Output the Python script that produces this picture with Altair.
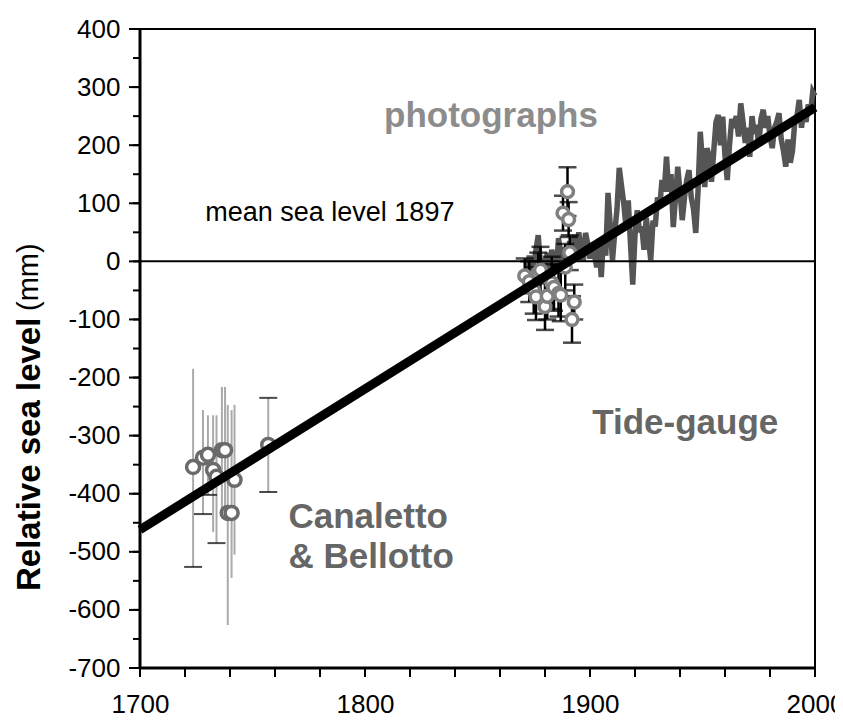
import altair as alt
import pandas as pd

# ---------------- data ----------------
# Tide-gauge annual relative sea level (mm), Venice
tide_years = list(range(1872, 2001))
tide_vals = [
    -20, 10, -30, -5, 20, 45, -10, 5, -25, 15,          # 1872-1881
    -15, 20, 0, -20, 40, 10, -5, 25, 0, 35,             # 1882-1891
    15, 45, 10, 50, 20, 0, 49, 30, 5, 25,               # 1892-1901
    10, -10, 30, -27, 40, 10, 118, 60, 2, 50,           # 1902-1911
    90, 161, 130, 100, 60, 105, 30, -40, 45, 88,        # 1912-1921
    50, 60, 20, 75, 40, 2, 70, 60, 110, 95,             # 1922-1931
    140, 120, 180, 120, 150, 59, 110, 163, 120, 71,     # 1932-1941
    110, 140, 157, 110, 90, 49, 120, 223, 170, 128,     # 1942-1951
    195, 180, 137, 190, 240, 252, 200, 249, 180, 140,   # 1952-1961
    200, 245, 230, 250, 215, 272, 240, 204, 230, 180,   # 1962-1971
    250, 220, 235, 200, 245, 261, 230, 250, 215, 195,   # 1972-1981
    230, 240, 255, 210, 190, 163, 210, 170, 190, 240,   # 1982-1991
    250, 278, 230, 260, 240, 270, 255, 292, 285,        # 1992-2000
]

# Photographs (years, values, half error)
photo_years = [1871, 1873, 1875, 1876, 1877, 1878, 1880, 1881, 1883, 1884,
               1886, 1887, 1888, 1889, 1890, 1890.5, 1891, 1892, 1893]
photo_vals = [-25, -35, -50, -61, -20, -15, -78, -60, -37, -45,
              -55, -58, 83, -10, 120, 72, 15, -100, -70]
photo_err = [30, 35, 40, 40, 35, 40, 40, 40, 45, 40,
             40, 45, 30, 40, 42, 30, 30, 40, 30]

# Canaletto & Bellotto paintings
can_years = [1723.6, 1728, 1730.2, 1732.5, 1734, 1736.4, 1737.8, 1739, 1740.7, 1742, 1757]
can_vals = [-354, -338, -333, -359, -371, -325, -325, -433, -433, -376, -316]
can_lo = [-526, -435, -402, -466, -485, -435, -440, -626, -545, -505, -397]
can_hi = [-185, -256, -265, -265, -265, -216, -216, -247, -256, -247, -235]
can_cap_years = [1723.6, 1728, 1730.2, 1734, 1757, 1757]
can_cap_vals = [-526, -435, -402, -485, -397, -235]

# Linear trend
trend_years = [1700, 2000]
trend_vals = [-462, 265]

# Axis ticks
x_ticks = list(range(1700, 2001, 20))
y_ticks = list(range(-700, 401, 50))
y_major = list(range(-700, 401, 100))

# ---------------- frames ----------------
tide = pd.DataFrame({"year": tide_years, "val": tide_vals})
photo = pd.DataFrame({"year": photo_years, "val": photo_vals, "err": photo_err})
photo["lo"] = photo["val"] - photo["err"]
photo["hi"] = photo["val"] + photo["err"]
can = pd.DataFrame({"year": can_years, "val": can_vals, "lo": can_lo, "hi": can_hi})
can_caps = pd.DataFrame({"year": can_cap_years, "val": can_cap_vals})
trend = pd.DataFrame({"year": trend_years, "val": trend_vals})
ymaj = pd.DataFrame({"v": y_major})
ytk = pd.DataFrame({"v": y_ticks})
xtk = pd.DataFrame({"v": x_ticks})
zero = pd.DataFrame({"v": [0]})

W, H = 675, 639
FONT = "Liberation Sans"

xscale = alt.Scale(domain=[1700, 2000], nice=False, zero=False)
yscale = alt.Scale(domain=[-700, 400], nice=False, zero=False)

xaxis = alt.Axis(values=x_ticks, labelExpr="datum.value % 100 == 0 ? '' + datum.value : ''",
                 title=None, labelFlush=False, labelOverlap=False, labelPadding=23)
yaxis = alt.Axis(values=y_ticks, labelExpr="datum.value % 100 == 0 ? '' + datum.value : ''",
                 title=None, labelOverlap=False, labelPadding=20)

tide_line = alt.Chart(tide).mark_line(color="#555555", strokeWidth=5.5, strokeJoin="miter").encode(
    x=alt.X("year:Q", scale=xscale, axis=xaxis),
    y=alt.Y("val:Q", scale=yscale, axis=yaxis))

zero_line = alt.Chart(zero).mark_rule(color="black", strokeWidth=2).encode(y="v:Q")

can_bars = alt.Chart(can).mark_rule(color="#aaaaaa", strokeWidth=2).encode(
    x="year:Q", y="lo:Q", y2="hi:Q")
can_capm = alt.Chart(can_caps).mark_tick(orient="horizontal", color="black",
                                        size=18, thickness=2).encode(x="year:Q", y="val:Q")
can_pts = alt.Chart(can).mark_circle(color="white", stroke="#6a6a6a", strokeWidth=3.5,
                                     size=170, opacity=1).encode(x="year:Q", y="val:Q")

photo_bars = alt.Chart(photo).mark_rule(color="black", strokeWidth=2.5).encode(
    x="year:Q", y="lo:Q", y2="hi:Q")
photo_cap_lo = alt.Chart(photo).mark_tick(orient="horizontal", color="black",
                                          size=18, thickness=2.5).encode(x="year:Q", y="lo:Q")
photo_cap_hi = alt.Chart(photo).mark_tick(orient="horizontal", color="black",
                                          size=18, thickness=2.5).encode(x="year:Q", y="hi:Q")
photo_pts = alt.Chart(photo).mark_circle(color="white", stroke="#808080", strokeWidth=3.5,
                                         size=140, opacity=1).encode(x="year:Q", y="val:Q")

trend_line = alt.Chart(trend).mark_line(color="black", strokeWidth=9).encode(
    x="year:Q", y="val:Q")

# axis ticks drawn as rules outside the frame (minor and major)
y_minor_ticks = alt.Chart(ytk).mark_rule(color="black", strokeWidth=2).encode(
    y="v:Q", x=alt.value(-7), x2=alt.value(0))
y_major_ticks = alt.Chart(ymaj).mark_rule(color="black", strokeWidth=2).encode(
    y="v:Q", x=alt.value(-11), x2=alt.value(0))
x_ticks_m = alt.Chart(xtk).mark_rule(color="black", strokeWidth=2).encode(
    x="v:Q", y=alt.value(H), y2=alt.value(H + 9))
left_dom = alt.Chart(zero).mark_rule(color="black", strokeWidth=3).encode(
    x=alt.value(0), y=alt.value(-1), y2=alt.value(H + 1))
bottom_dom = alt.Chart(zero).mark_rule(color="black", strokeWidth=3).encode(
    y=alt.value(H), x=alt.value(-1), x2=alt.value(W + 1))

# annotations (data coordinates)
lab_photo = alt.Chart(pd.DataFrame({"year": [1856], "val": [250], "t": ["photographs"]})).mark_text(
    fontSize=35, fontWeight="bold", font=FONT, color="#8c8c8c", align="center",
    baseline="middle").encode(x="year:Q", y="val:Q", text="t:N")
lab_msl = alt.Chart(pd.DataFrame({"year": [1729], "val": [83], "t": ["mean sea level 1897"]})).mark_text(
    fontSize=27, font=FONT, color="black", align="left",
    baseline="middle").encode(x="year:Q", y="val:Q", text="t:N")
lab_tide = alt.Chart(pd.DataFrame({"year": [1901], "val": [-278], "t": ["Tide-gauge"]})).mark_text(
    fontSize=35, fontWeight="bold", font=FONT, color="#666666", align="left",
    baseline="middle").encode(x="year:Q", y="val:Q", text="t:N")
lab_can = alt.Chart(pd.DataFrame({"year": [1766, 1766], "val": [-440, -509],
                                  "t": ["Canaletto", "& Bellotto"]})).mark_text(
    fontSize=35, fontWeight="bold", font=FONT, color="#666666", align="left",
    baseline="middle").encode(x="year:Q", y="val:Q", text="t:N")

# y-axis title (two weights)
ttl1 = alt.Chart(pd.DataFrame({"t": ["Relative sea level"]})).mark_text(
    fontSize=33, fontWeight="bold", font=FONT, color="black", angle=270,
    align="left", baseline="middle").encode(
    x=alt.value(-110), y=alt.value(562), text="t:N")
ttl2 = alt.Chart(pd.DataFrame({"t": ["(mm)"]})).mark_text(
    fontSize=29, font=FONT, color="black", angle=270,
    align="left", baseline="middle").encode(
    x=alt.value(-111), y=alt.value(282), text="t:N")

chart = alt.layer(
    tide_line, zero_line, can_bars, can_capm, can_pts,
    photo_bars, photo_cap_lo, photo_cap_hi, photo_pts, trend_line,
    y_minor_ticks, y_major_ticks, x_ticks_m, left_dom, bottom_dom,
    lab_photo, lab_msl, lab_tide, lab_can, ttl1, ttl2,
).properties(
    width=W, height=H,
    background="white",
    autosize=alt.AutoSizeParams(type="none"),
    padding={"left": 132, "top": 21, "right": 20, "bottom": 52},
).configure_view(
    stroke="black", strokeWidth=2
).configure_axis(
    grid=False, ticks=False, domain=False,
    labelFontSize=26, labelFont=FONT, labelColor="black",
)

chart.save("out.html", embed_options={"renderer": "svg", "actions": False})
